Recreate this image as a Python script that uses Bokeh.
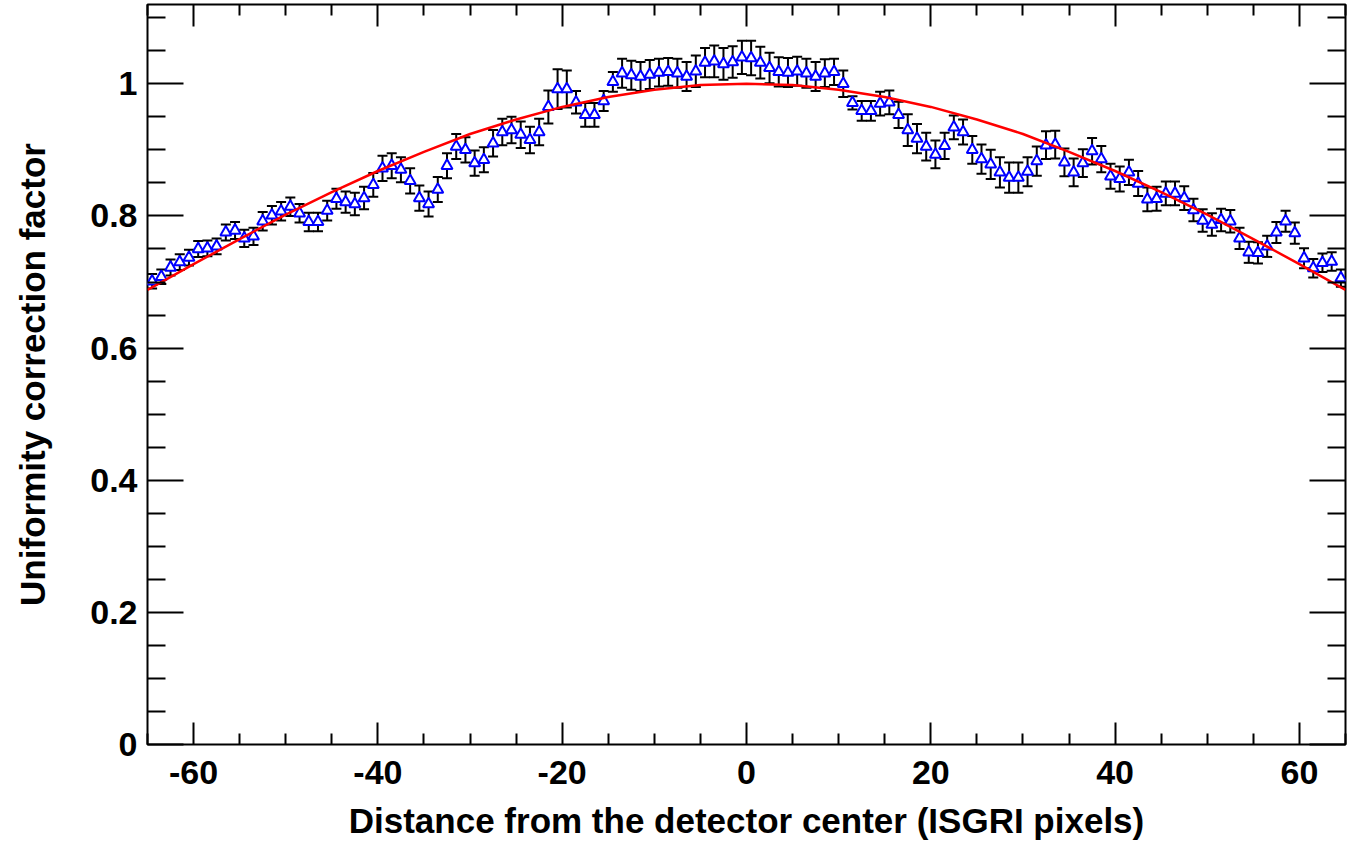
from bokeh.plotting import figure
from bokeh.models import (Range1d, FixedTicker, LinearAxis, CustomJSTickFormatter,
                          Whisker, ColumnDataSource, TeeHead)
from bokeh.embed import file_html
from bokeh.resources import INLINE

# ---------------- data ----------------
x_values = [-64.5, -63.5, -62.5, -61.5, -60.5, -59.5, -58.5, -57.5, -56.5, -55.5,
            -54.5, -53.5, -52.5, -51.5, -50.5, -49.5, -48.5, -47.5, -46.5, -45.5,
            -44.5, -43.5, -42.5, -41.5, -40.5, -39.5, -38.5, -37.5, -36.5, -35.5,
            -34.5, -33.5, -32.5, -31.5, -30.5, -29.5, -28.5, -27.5, -26.5, -25.5,
            -24.5, -23.5, -22.5, -21.5, -20.5, -19.5, -18.5, -17.5, -16.5, -15.5,
            -14.5, -13.5, -12.5, -11.5, -10.5, -9.5, -8.5, -7.5, -6.5, -5.5,
            -4.5, -3.5, -2.5, -1.5, -0.5, 0.5, 1.5, 2.5, 3.5, 4.5,
            5.5, 6.5, 7.5, 8.5, 9.5, 10.5, 11.5, 12.5, 13.5, 14.5,
            15.5, 16.5, 17.5, 18.5, 19.5, 20.5, 21.5, 22.5, 23.5, 24.5,
            25.5, 26.5, 27.5, 28.5, 29.5, 30.5, 31.5, 32.5, 33.5, 34.5,
            35.5, 36.5, 37.5, 38.5, 39.5, 40.5, 41.5, 42.5, 43.5, 44.5,
            45.5, 46.5, 47.5, 48.5, 49.5, 50.5, 51.5, 52.5, 53.5, 54.5,
            55.5, 56.5, 57.5, 58.5, 59.5, 60.5, 61.5, 62.5, 63.5, 64.5]

y_values = [0.701, 0.708, 0.722, 0.730, 0.737, 0.750, 0.751, 0.754, 0.775, 0.778,
            0.766, 0.769, 0.792, 0.801, 0.807, 0.814, 0.804, 0.791, 0.791, 0.808,
            0.826, 0.821, 0.818, 0.827, 0.847, 0.872, 0.876, 0.870, 0.853, 0.827,
            0.818, 0.840, 0.876, 0.905, 0.900, 0.880, 0.885, 0.910, 0.927, 0.930,
            0.923, 0.915, 0.927, 0.965, 0.992, 0.992, 0.972, 0.953, 0.953, 0.974,
            1.003, 1.016, 1.013, 1.011, 1.014, 1.017, 1.018, 1.016, 1.011, 1.019,
            1.032, 1.034, 1.030, 1.033, 1.040, 1.039, 1.032, 1.024, 1.018, 1.017,
            1.019, 1.016, 1.011, 1.016, 1.018, 1.000, 0.971, 0.959, 0.959, 0.970,
            0.972, 0.953, 0.930, 0.917, 0.905, 0.893, 0.906, 0.934, 0.927, 0.900,
            0.886, 0.878, 0.866, 0.858, 0.858, 0.867, 0.883, 0.907, 0.908, 0.881,
            0.866, 0.880, 0.898, 0.886, 0.860, 0.856, 0.866, 0.849, 0.825, 0.826,
            0.834, 0.834, 0.827, 0.809, 0.793, 0.787, 0.794, 0.792, 0.766, 0.745,
            0.744, 0.754, 0.775, 0.792, 0.774, 0.736, 0.721, 0.729, 0.731, 0.706]

y_errors = [0.011, 0.011, 0.012, 0.012, 0.012, 0.012, 0.012, 0.012, 0.012, 0.013,
            0.013, 0.013, 0.014, 0.014, 0.014, 0.014, 0.014, 0.014, 0.014, 0.015,
            0.015, 0.016, 0.017, 0.017, 0.018, 0.019, 0.019, 0.019, 0.019, 0.019,
            0.019, 0.019, 0.019, 0.019, 0.019, 0.019, 0.019, 0.020, 0.020, 0.020,
            0.020, 0.020, 0.020, 0.025, 0.030, 0.028, 0.017, 0.018, 0.018, 0.015,
            0.015, 0.022, 0.022, 0.022, 0.022, 0.021, 0.021, 0.022, 0.022, 0.024,
            0.022, 0.024, 0.024, 0.024, 0.025, 0.026, 0.024, 0.023, 0.022, 0.022,
            0.022, 0.022, 0.022, 0.021, 0.020, 0.020, 0.010, 0.015, 0.015, 0.018,
            0.018, 0.020, 0.024, 0.022, 0.021, 0.021, 0.020, 0.018, 0.019, 0.021,
            0.022, 0.022, 0.023, 0.023, 0.023, 0.022, 0.022, 0.021, 0.021, 0.021,
            0.021, 0.021, 0.020, 0.020, 0.019, 0.019, 0.019, 0.019, 0.018, 0.018,
            0.018, 0.018, 0.018, 0.017, 0.017, 0.017, 0.017, 0.017, 0.016, 0.016,
            0.016, 0.016, 0.016, 0.016, 0.016, 0.015, 0.014, 0.014, 0.014, 0.013]

fit_x = [-65, -60, -55, -50, -45, -40, -35, -30, -25, -20, -15, -10, -5, 0,
         5, 10, 15, 20, 25, 30, 35, 40, 45, 50, 55, 60, 65]
fit_y = [0.688, 0.727, 0.765, 0.802, 0.836, 0.868, 0.897, 0.924, 0.946, 0.965,
         0.980, 0.991, 0.998, 1.000, 0.998, 0.991, 0.980, 0.965, 0.946, 0.924,
         0.897, 0.868, 0.836, 0.802, 0.765, 0.727, 0.688]

x_major = [-60, -40, -20, 0, 20, 40, 60]
x_minor = [-65, -55, -50, -45, -35, -30, -25, -15, -10, -5,
           5, 10, 15, 25, 30, 35, 45, 50, 55, 65]
y_major = [0, 0.2, 0.4, 0.6, 0.8, 1.0]
y_minor = [0.05, 0.1, 0.15, 0.25, 0.3, 0.35, 0.45, 0.5, 0.55, 0.65, 0.7, 0.75,
           0.85, 0.9, 0.95, 1.05, 1.1]

x_title = "Distance from the detector center (ISGRI pixels)"
y_title = "Uniformity correction factor"

FONT = "Liberation Sans"
FS = "34px"
TFS = "35px"

# ---------------- figure ----------------
p = figure(frame_width=1198, frame_height=740, output_backend="svg",
           toolbar_location=None,
           x_range=Range1d(-65, 65), y_range=Range1d(0, 1.12),
           min_border_left=147, min_border_right=4, min_border_top=4,
           min_border_bottom=90, x_axis_location=None, y_axis_location=None)
p.xgrid.visible = False
p.ygrid.visible = False
p.outline_line_color = "black"
p.outline_line_width = 2
p.background_fill_color = "white"
p.border_fill_color = "white"

fmt_y = CustomJSTickFormatter(code="return String(Math.round(tick*100)/100)")
fmt_x = CustomJSTickFormatter(code="return String(Math.round(tick))")
fmt_none = CustomJSTickFormatter(code="return ''")


def style_axis(ax, ticks, minor, tick_len, labels=True):
    ax.ticker = FixedTicker(ticks=ticks, minor_ticks=minor)
    ax.axis_line_color = None
    ax.major_tick_in = tick_len
    ax.major_tick_out = 0
    ax.minor_tick_in = tick_len // 2
    ax.minor_tick_out = 0
    ax.major_tick_line_width = 2
    ax.minor_tick_line_width = 2
    ax.major_tick_line_color = "black"
    ax.minor_tick_line_color = "black"
    if labels:
        ax.major_label_text_font = FONT
        ax.major_label_text_font_style = "bold"
        ax.major_label_text_font_size = FS
        ax.major_label_text_color = "black"
        ax.axis_label_text_font = FONT
        ax.axis_label_text_font_style = "bold"
        ax.axis_label_text_font_size = TFS
        ax.axis_label_text_color = "black"
    else:
        ax.formatter = fmt_none
        ax.major_label_text_font_size = "1px"
        ax.major_label_standoff = 0


xb = LinearAxis(axis_label=x_title, formatter=fmt_x)
style_axis(xb, x_major, x_minor, 22)
xb.major_label_standoff = 16
xb.axis_label_standoff = 14
p.add_layout(xb, "below")

xt = LinearAxis()
style_axis(xt, x_major, x_minor, 22, labels=False)
p.add_layout(xt, "above")

yl = LinearAxis(axis_label=y_title, formatter=fmt_y)
style_axis(yl, y_major, y_minor, 36)
yl.major_label_standoff = 10
yl.axis_label_standoff = 35
p.add_layout(yl, "left")

yr = LinearAxis()
style_axis(yr, y_major, y_minor, 36, labels=False)
p.add_layout(yr, "right")

# ---------------- data glyphs ----------------
src = ColumnDataSource(data=dict(
    x=x_values, y=y_values,
    upper=[v + e for v, e in zip(y_values, y_errors)],
    lower=[v - e for v, e in zip(y_values, y_errors)],
))

w = Whisker(source=src, base="x", upper="upper", lower="lower",
            line_color="black", line_width=2,
            upper_head=TeeHead(size=10, line_color="black", line_width=2),
            lower_head=TeeHead(size=10, line_color="black", line_width=2))
p.add_layout(w)

p.scatter("x", "y", source=src, marker="triangle", size=11,
          line_color="#0000ff", fill_color="white", line_width=2)

p.line(fit_x, fit_y, line_color="#ff0000", line_width=2.5)

open("out.html", "w").write(file_html(p, INLINE))
